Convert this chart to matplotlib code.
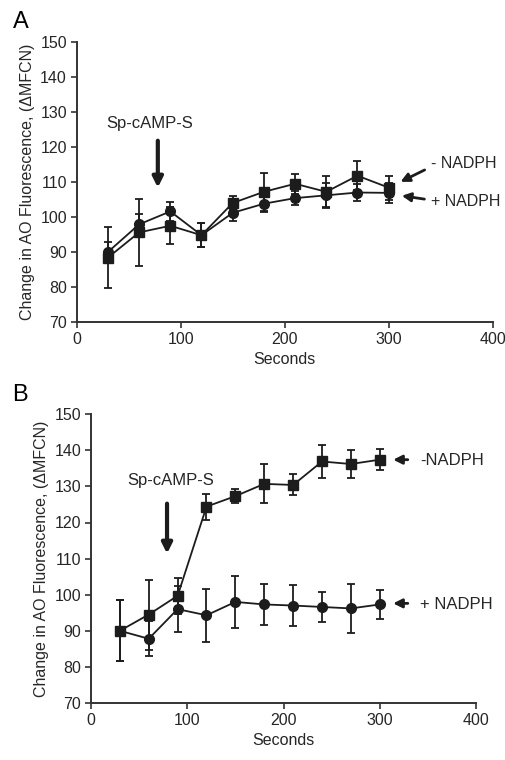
import matplotlib
matplotlib.use('Agg')
from matplotlib import pyplot as plt

plt.rcParams['font.family'] = ['Liberation Sans', 'DejaVu Sans']

seconds = [30, 60, 90, 120, 150, 180, 210, 240, 270, 300]

# panel A
a_plus = [90.0, 97.9, 101.6, 94.8, 101.2, 103.8, 105.4, 106.2, 107.0, 106.9]
a_plus_err = [2.9, 3.0, 2.8, 3.5, 2.4, 2.4, 2.0, 3.5, 2.5, 2.9]
a_minus = [88.4, 95.6, 97.5, 94.8, 104.0, 107.2, 109.5, 107.2, 111.8, 108.4]
a_minus_err = [8.7, 9.6, 5.3, 3.5, 1.9, 5.4, 2.8, 4.4, 4.1, 3.4]

# panel B
b_plus = [90.0, 87.8, 96.0, 94.3, 98.0, 97.3, 97.0, 96.6, 96.2, 97.3]
b_plus_err = [8.5, 4.9, 6.4, 7.3, 7.2, 5.7, 5.7, 4.1, 6.8, 4.0]
b_minus = [90.0, 94.5, 99.7, 124.4, 127.3, 130.7, 130.4, 136.9, 136.2, 137.4]
b_minus_err = [8.5, 9.7, 5.0, 3.6, 1.9, 5.4, 2.9, 4.5, 4.0, 2.9]

ylab = 'Change in AO Fluorescence, (\u0394MFCN)'
col = '#1c1c1c'
tcol = '#262626'

fig = plt.figure(figsize=(5.06, 7.6), dpi=100)
axA = fig.add_axes([0.1516, 0.5763, 0.822, 0.3684])
axB = fig.add_axes([0.1798, 0.075, 0.761, 0.380])


def draw(ax, plus, plus_err, minus, minus_err):
    ax.errorbar(seconds, plus, yerr=plus_err, color=col, marker='o', ms=7,
                lw=1.3, elinewidth=1.3, capsize=3, capthick=1.3)
    ax.errorbar(seconds, minus, yerr=minus_err, color=col, marker='s', ms=7,
                lw=1.3, elinewidth=1.3, capsize=3, capthick=1.3)
    ax.set_xlim(0, 400)
    ax.set_ylim(70, 150)
    ax.set_xticks([0, 100, 200, 300, 400])
    ax.set_yticks(range(70, 151, 10))
    for s in ['top', 'right']:
        ax.spines[s].set_visible(False)
    for s in ['left', 'bottom']:
        ax.spines[s].set_color('#333333')
        ax.spines[s].set_linewidth(1.4)
    ax.tick_params(direction='out', length=4, width=1.2, color='#333333',
                   labelsize=11.5, labelcolor=tcol, pad=3)
    ax.set_xlabel('Seconds', fontsize=11.5, color=tcol, labelpad=4)
    ax.set_ylabel(ylab, fontsize=11.5, color=tcol, labelpad=4)


draw(axA, a_plus, a_plus_err, a_minus, a_minus_err)
draw(axB, b_plus, b_plus_err, b_minus, b_minus_err)

fs = 12
# panel A notes
axA.text(70, 126.7, 'Sp-cAMP-S', ha='center', va='center', fontsize=fs, color=tcol)
axA.annotate('', xy=(78, 107.6), xytext=(78, 122.6),
             arrowprops=dict(arrowstyle='-|>', lw=3, color=col, mutation_scale=15))
axA.annotate('', xy=(309, 109.7), xytext=(337, 113.8),
             arrowprops=dict(arrowstyle='-|>', lw=2, color=col, mutation_scale=13))
axA.annotate('', xy=(310, 106.2), xytext=(337, 105.0),
             arrowprops=dict(arrowstyle='-|>', lw=2, color=col, mutation_scale=13))
axA.text(341, 115.2, '- NADPH', ha='left', va='center', fontsize=11.5, color=tcol)
axA.text(341, 104.3, '+ NADPH', ha='left', va='center', fontsize=11.5, color=tcol)

# panel B notes
axB.text(83, 131.5, 'Sp-cAMP-S', ha='center', va='center', fontsize=fs, color=tcol)
axB.annotate('', xy=(79, 110.6), xytext=(79, 126.0),
             arrowprops=dict(arrowstyle='-|>', lw=3, color=col, mutation_scale=15))
axB.annotate('', xy=(311, 137.4), xytext=(332, 137.4),
             arrowprops=dict(arrowstyle='-|>', lw=2, color=col, mutation_scale=13))
axB.annotate('', xy=(311, 97.6), xytext=(332, 97.6),
             arrowprops=dict(arrowstyle='-|>', lw=2, color=col, mutation_scale=13))
axB.text(342, 137.2, '-NADPH', ha='left', va='center', fontsize=fs, color=tcol)
axB.text(342, 97.3, '+ NADPH', ha='left', va='center', fontsize=fs, color=tcol)

fig.text(0.026, 0.985, 'A', fontsize=17, ha='left', va='top')
fig.text(0.024, 0.495, 'B', fontsize=17, ha='left', va='top')

fig.savefig('out.png', dpi=100)
